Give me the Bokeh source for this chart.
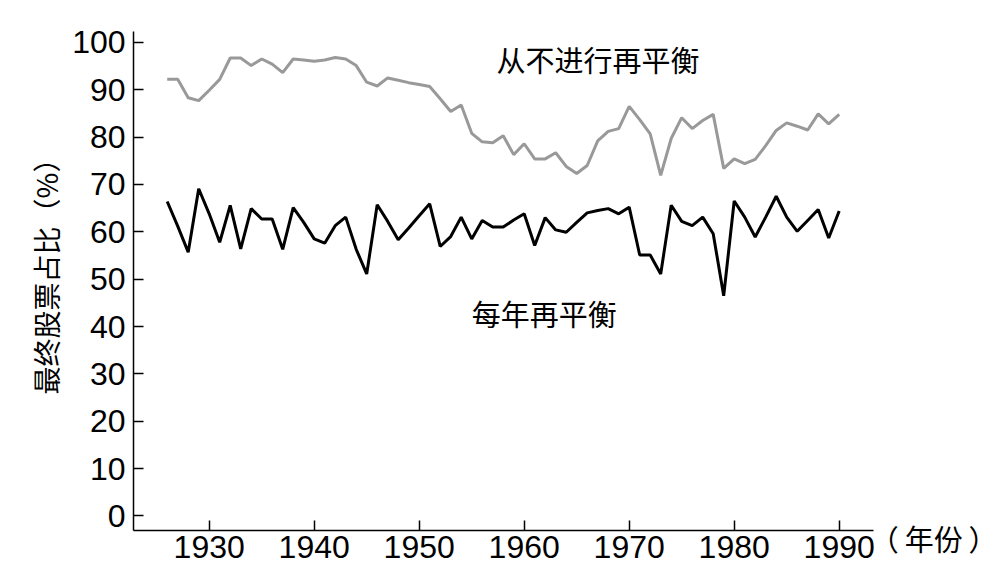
import math
from bokeh.plotting import figure
from bokeh.models import Range1d, FixedTicker, Label
from bokeh.embed import file_html
from bokeh.resources import INLINE

years = list(range(1926, 1991))
never_rebalance = [
    92.2, 92.2, 88.3, 87.7, 89.9, 92.2, 96.7, 96.7, 95.1, 96.5,
    95.4, 93.6, 96.5, 96.3, 96.0, 96.3, 96.8, 96.5, 95.1, 91.6,
    90.8, 92.5, 92.0, 91.5, 91.1, 90.7, 88.1, 85.4, 86.8, 80.8,
    79.0, 78.8, 80.3, 76.3, 78.6, 75.4, 75.4, 76.7, 73.8, 72.3,
    74.0, 79.2, 81.2, 81.8, 86.5, 83.7, 80.7, 71.9, 79.7, 84.1,
    81.8, 83.5, 84.8, 73.4, 75.4, 74.4, 75.3, 78.2, 81.4, 83.0,
    82.3, 81.5, 84.9, 82.8, 84.8,
]
annual_rebalance = [
    66.4, 61.2, 55.7, 69.1, 63.8, 57.8, 65.6, 56.4, 64.9, 62.7,
    62.7, 56.3, 65.1, 62.0, 58.5, 57.6, 61.3, 63.1, 56.3, 51.1,
    65.7, 62.2, 58.3, 60.8, 63.4, 65.9, 56.9, 59.0, 63.1, 58.5,
    62.4, 61.0, 61.0, 62.5, 63.8, 57.1, 63.0, 60.4, 59.9, 62.0,
    64.0, 64.5, 64.9, 63.8, 65.2, 55.1, 55.1, 51.1, 65.6, 62.2,
    61.3, 63.1, 59.6, 46.5, 66.5, 63.1, 58.9, 63.1, 67.5, 63.1,
    60.1, 62.4, 64.7, 58.7, 64.4,
]
x_ticks = [1930, 1940, 1950, 1960, 1970, 1980, 1990]
y_ticks = [0, 10, 20, 30, 40, 50, 60, 70, 80, 90, 100]

label_never = "从不进行再平衡"
label_annual = "每年再平衡"
y_title = "最终股票占比（%）"
x_title = "（\u2009年份\u2009）"

CJK = "Noto Sans CJK SC"
NUM = "Liberation Sans"

# axis extents (data units)
X0, X1 = 1922.8, 1993.3
Y0, Y1 = -3.08, 102.3

p = figure(
    frame_width=1000, frame_height=578,
    min_border_left=0, min_border_right=0,
    min_border_top=0, min_border_bottom=0,
    x_range=Range1d(1910.124, 2005.362), y_range=Range1d(-13.22, 108.85),
    output_backend="svg", toolbar_location=None,
)
p.outline_line_color = None
p.xgrid.visible = False
p.ygrid.visible = False
p.background_fill_color = "white"
p.border_fill_color = "white"

for ax in (p.xaxis[0], p.yaxis[0]):
    ax.axis_line_color = "black"
    ax.axis_line_width = 1.5
    ax.major_tick_line_color = "black"
    ax.major_tick_line_width = 1.5
    ax.major_tick_in = 10
    ax.major_tick_out = 0
    ax.minor_tick_line_color = None
    ax.major_label_text_font = NUM
    ax.major_label_text_font_size = "32px"
    ax.major_label_text_color = "black"

p.xaxis.ticker = FixedTicker(ticks=x_ticks)
p.yaxis.ticker = FixedTicker(ticks=y_ticks)
p.xaxis.fixed_location = Y0
p.yaxis.fixed_location = X0
p.xaxis.bounds = (X0, X1)
p.yaxis.bounds = (Y0, Y1)
p.xaxis.major_label_standoff = 6
p.yaxis.major_label_standoff = 8

p.line(years, never_rebalance, line_color="#999999", line_width=3)
p.line(years, annual_rebalance, line_color="black", line_width=3)

p.add_layout(Label(x=1967.03, y=96.55, text=label_never, text_font=CJK,
                   text_font_size="29px", text_align="center",
                   text_baseline="middle", text_color="black"))
p.add_layout(Label(x=1961.9, y=42.85, text=label_annual, text_font=CJK,
                   text_font_size="29px", text_align="center",
                   text_baseline="middle", text_color="black"))
p.add_layout(Label(x=X1, y=-4.69, x_offset=-4, text=x_title,
                   text_font=CJK, text_font_size="29px", text_align="left",
                   text_baseline="middle", text_color="black"))
p.add_layout(Label(x=1914.41, y=52.04, text=y_title, angle=math.pi / 2,
                   text_font=CJK, text_font_size="28px", text_align="center",
                   text_baseline="middle", text_color="black"))

open("out.html", "w").write(file_html(p, INLINE))
